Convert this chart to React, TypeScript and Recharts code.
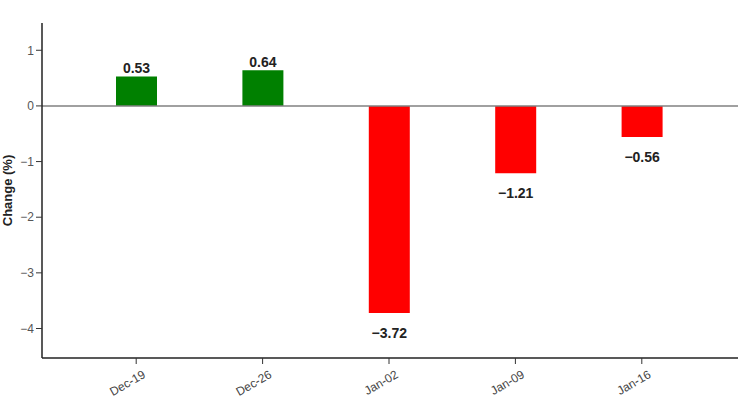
import { BarChart, Bar, XAxis, YAxis, ReferenceLine, Cell, LabelList } from 'recharts'

const weeks = ['Dec-19', 'Dec-26', 'Jan-02', 'Jan-09', 'Jan-16']
const changes = [0.53, 0.64, -3.72, -1.21, -0.56]
const yTicks = [1, 0, -1, -2, -3, -4]

const data = weeks.map((week, i) => ({ week, change: changes[i] }))

const font = '"Liberation Sans", Arial, sans-serif'

function fmt(v: number): string {
  return v < 0 ? `\u2212${Math.abs(v)}` : `${v}`
}

function XTick(props: any) {
  const { x, y, payload } = props
  return (
    <g transform={`translate(${x + 6},${y + 4})`}>
      <text
        textAnchor="end"
        transform="rotate(-30)"
        fontSize={12}
        fill="#444"
        fontFamily={font}
        dy={8}
      >
        {payload.value}
      </text>
    </g>
  )
}

function ValueLabel(props: any) {
  const { x, y, width, height, value } = props
  const neg = value < 0
  const top = Math.min(y, y + height)
  const bottom = Math.max(y, y + height)
  const cy = neg ? bottom + 20 : top - 8
  return (
    <text
      x={x + width / 2}
      y={cy}
      textAnchor="middle"
      dominantBaseline="central"
      fontSize={14}
      fontWeight="bold"
      fill="#222"
      fontFamily={font}
    >
      {fmt(value)}
    </text>
  )
}

export default function App() {
  return (
    <div style={{ position: 'absolute', left: 0, top: 0, background: '#fff' }}>
      <BarChart
        width={756}
        height={400}
        data={data}
        margin={{ top: 23, right: 18, bottom: 0, left: 0 }}
      >
        <XAxis
          dataKey="week"
          height={42}
          padding={{ left: 31, right: 33 }}
          tick={<XTick />}
          tickLine={{ stroke: '#333' }}
          axisLine={{ stroke: '#222', strokeWidth: 1.5 }}
          tickSize={6}
          interval={0}
        />
        <YAxis
          width={42}
          type="number"
          domain={[-4.53, 1.49]}
          ticks={yTicks}
          allowDataOverflow
          tickFormatter={fmt}
          tick={{ fontSize: 12, fill: '#555', fontFamily: font }}
          tickLine={{ stroke: '#333' }}
          axisLine={{ stroke: '#222', strokeWidth: 1.5 }}
          tickSize={6}
          label={{
            value: 'Change (%)',
            angle: -90,
            position: 'insideLeft',
            offset: 7,
            style: {
              textAnchor: 'middle',
              fontSize: 13,
              fontWeight: 'bold',
              fill: '#222',
              fontFamily: font,
            },
          }}
        />
        <ReferenceLine y={0} stroke="#808080" strokeWidth={1.5} />
        <Bar dataKey="change" barSize={41} isAnimationActive={false}>
          {data.map((d) => (
            <Cell key={d.week} fill={d.change >= 0 ? '#008000' : '#ff0000'} />
          ))}
          <LabelList dataKey="change" content={<ValueLabel />} />
        </Bar>
      </BarChart>
    </div>
  )
}
